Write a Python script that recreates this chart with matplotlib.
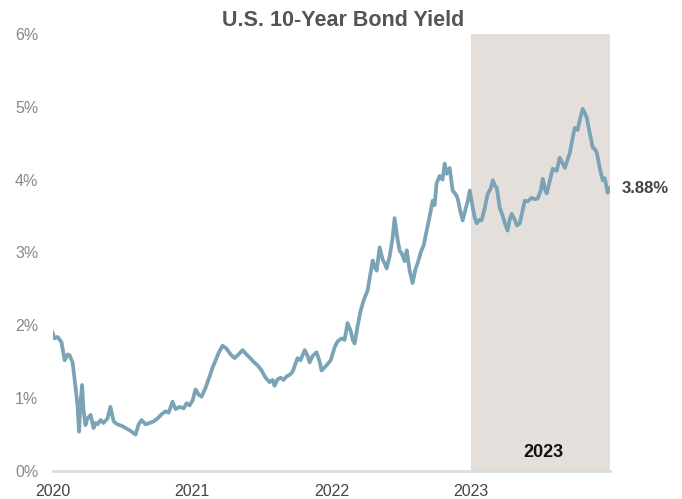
import matplotlib.pyplot as plt

# decimal year and 10-year yield (%)
t = [0.000, 0.014, 0.036, 0.064, 0.087, 0.108, 0.122, 0.144, 0.165, 0.179,
     0.190, 0.201, 0.212, 0.222, 0.236, 0.250, 0.273, 0.294, 0.308, 0.323,
     0.344, 0.365, 0.394, 0.415, 0.438, 0.466, 0.495, 0.523, 0.552, 0.580,
     0.595, 0.617, 0.638, 0.667, 0.695, 0.724, 0.752, 0.782, 0.810, 0.832,
     0.860, 0.882, 0.910, 0.940, 0.961, 0.982, 1.004, 1.025, 1.046, 1.068,
     1.096, 1.126, 1.147, 1.169, 1.190, 1.218, 1.247, 1.276, 1.305, 1.333,
     1.362, 1.390, 1.412, 1.440, 1.470, 1.498, 1.527, 1.555, 1.577, 1.591,
     1.613, 1.635, 1.656, 1.678, 1.699, 1.720, 1.742, 1.756, 1.777, 1.807,
     1.828, 1.842, 1.864, 1.892, 1.914, 1.928, 1.949, 1.972, 1.993, 2.022,
     2.043, 2.071, 2.093, 2.114, 2.137, 2.151, 2.165, 2.187, 2.208, 2.229,
     2.258, 2.279, 2.294, 2.309, 2.323, 2.344, 2.366, 2.380, 2.394, 2.416,
     2.437, 2.451, 2.474, 2.488, 2.502, 2.523, 2.538, 2.559, 2.580, 2.602,
     2.616, 2.638, 2.660, 2.681, 2.703, 2.724, 2.738, 2.752, 2.774, 2.795,
     2.810, 2.825, 2.846, 2.867, 2.889, 2.903, 2.924, 2.939, 2.960, 2.975,
     2.990, 3.011, 3.025, 3.040, 3.061, 3.075, 3.096, 3.118, 3.140, 3.155,
     3.169, 3.183, 3.204, 3.226, 3.240, 3.261, 3.276, 3.290, 3.312, 3.327,
     3.348, 3.369, 3.384, 3.405, 3.433, 3.455, 3.476, 3.499, 3.513, 3.527,
     3.541, 3.563, 3.584, 3.613, 3.634, 3.656, 3.671, 3.692, 3.706, 3.728,
     3.742, 3.763, 3.777, 3.799, 3.813, 3.828, 3.850, 3.871, 3.885, 3.900,
     3.921, 3.942, 3.957, 3.971, 3.978, 3.985]
yld = [1.90, 1.82, 1.84, 1.77, 1.52, 1.60, 1.59, 1.49, 1.15, 0.90,
       0.54, 0.95, 1.18, 0.84, 0.63, 0.72, 0.77, 0.59, 0.66, 0.64,
       0.70, 0.66, 0.72, 0.88, 0.68, 0.64, 0.62, 0.59, 0.56, 0.52,
       0.50, 0.64, 0.70, 0.64, 0.66, 0.68, 0.72, 0.78, 0.82, 0.80,
       0.95, 0.85, 0.88, 0.86, 0.93, 0.90, 0.97, 1.12, 1.05, 1.02,
       1.14, 1.30, 1.42, 1.52, 1.62, 1.72, 1.68, 1.60, 1.55, 1.60,
       1.66, 1.60, 1.56, 1.50, 1.45, 1.38, 1.28, 1.22, 1.25, 1.17,
       1.26, 1.28, 1.25, 1.30, 1.32, 1.36, 1.48, 1.55, 1.52, 1.66,
       1.58, 1.49, 1.58, 1.63, 1.50, 1.38, 1.42, 1.47, 1.52, 1.70,
       1.78, 1.82, 1.80, 2.03, 1.92, 1.80, 1.75, 2.00, 2.20, 2.34,
       2.48, 2.72, 2.89, 2.80, 2.75, 3.07, 2.90, 2.85, 2.78, 2.95,
       3.20, 3.47, 3.16, 3.02, 2.99, 2.88, 3.03, 2.75, 2.58, 2.78,
       2.85, 3.00, 3.10, 3.30, 3.50, 3.71, 3.65, 3.95, 4.05, 4.00,
       4.22, 4.08, 4.16, 3.85, 3.80, 3.74, 3.55, 3.44, 3.60, 3.70,
       3.85, 3.62, 3.48, 3.40, 3.45, 3.44, 3.60, 3.80, 3.88, 3.99,
       3.92, 3.89, 3.62, 3.50, 3.41, 3.30, 3.45, 3.53, 3.45, 3.37,
       3.40, 3.58, 3.71, 3.70, 3.75, 3.73, 3.74, 3.85, 4.01, 3.88,
       3.81, 3.98, 4.15, 4.12, 4.30, 4.22, 4.16, 4.28, 4.36, 4.58,
       4.71, 4.68, 4.81, 4.97, 4.92, 4.85, 4.63, 4.44, 4.42, 4.37,
       4.16, 3.99, 4.02, 3.89, 3.82, 3.88]
years = [2020, 2021, 2022, 2023]
yticks = [0, 1, 2, 3, 4, 5, 6]
last_label = "3.88%"

x = [2020 + v for v in t]

plt.rcParams['font.family'] = ['Liberation Sans', 'DejaVu Sans']
fig = plt.figure(figsize=(6.82, 4.99), dpi=100)
ax = fig.add_axes([0.0770, 0.0561, 0.8175, 0.876])

ax.axvspan(2023, 2023.995, color='#e4dfda', lw=0, zorder=0)
ax.plot(x, yld, color='#7aa3b5', lw=2.7, zorder=2)

ax.set_xlim(2020, 2023.995)
ax.set_ylim(0, 6)
ax.set_xticks(years)
ax.set_xticklabels([str(y) for y in years], fontsize=11.5, color='#444444')
ax.set_yticks(yticks)
ax.set_yticklabels([f'{v}%' for v in yticks], fontsize=11.5, color='#888888', ha='left')
ax.tick_params(axis='y', length=0, pad=27)
ax.tick_params(axis='x', length=0, pad=9)

for s in ['top', 'right', 'left']:
    ax.spines[s].set_visible(False)
ax.spines['bottom'].set_color('#dddddd')
ax.spines['bottom'].set_linewidth(2)

ax.text(2023.52, 0.25, '2023', fontsize=13, fontweight='bold', color='#111111',
        ha='center', va='center')
ax.annotate(last_label, xy=(x[-1], yld[-1]), xytext=(9, 0), textcoords='offset points',
            fontsize=12, fontweight='bold', color='#444444', va='center', ha='left',
            annotation_clip=False)

fig.suptitle('U.S. 10-Year Bond Yield', x=0.503, y=0.98, fontsize=15.5,
             fontweight='bold', color='#555555')

fig.savefig('out.png', dpi=100)
